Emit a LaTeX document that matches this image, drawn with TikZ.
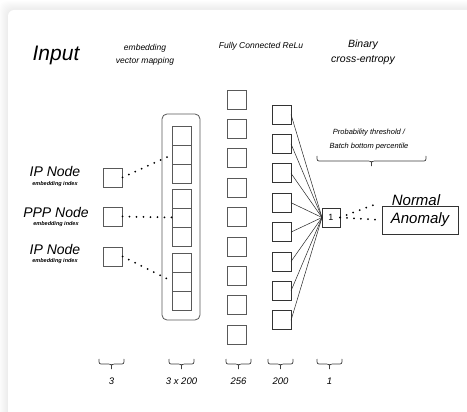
\documentclass[tikz,border=0pt]{standalone}
\usepackage{fontspec}
\setmainfont{Liberation Sans}
\newcommand{\dnbrace}[3]{%
  \draw[brc] (#1,#3) .. controls (#1,#3+5) .. (#1+4,#3+5) -- ({(#1+#2)/2-3},#3+5)
    .. controls ({(#1+#2)/2},#3+5) .. ({(#1+#2)/2},#3+10)
    .. controls ({(#1+#2)/2},#3+5) .. ({(#1+#2)/2+3},#3+5) -- (#2-4,#3+5)
    .. controls (#2,#3+5) .. (#2,#3);}
\begin{document}
\begin{tikzpicture}[x=1pt,y=-1pt,
  sq/.style={draw=black!65, line width=0.8pt, minimum width=19pt, minimum height=19pt, inner sep=0pt, outer sep=0pt},
  dotline/.style={line width=2pt, line cap=round, dash pattern=on 0pt off 7pt, black},
  conn/.style={line width=0.5pt, black!85},
  lbl/.style={font=\itshape, inner sep=0pt, align=center},
  brc/.style={line width=0.7pt, black!75}]
\useasboundingbox (0,0) rectangle (467,412);
\fill[white] (0,0) rectangle (467,412);
\foreach \i in {1,...,9} {
  \fill[black, opacity=0.008, rounded corners=8pt] (8-\i,10-\i) rectangle (490,440);
}
\fill[white, rounded corners=6pt] (8,10) rectangle (490,440);

% titles
\node[lbl, font=\itshape\fontsize{21}{23}\selectfont] (tin) at (56,55) {Input};
\node[lbl, font=\itshape\fontsize{8.5}{13.5}\selectfont] (temb) at (145,55) {embedding\\vector mapping};
\node[lbl, font=\itshape\fontsize{8.5}{10}\selectfont] (tfc) at (261,46) {Fully Connected ReLu};
\node[lbl, font=\itshape\fontsize{10.5}{15}\selectfont] (tbce) at (363,52) {Binary\\cross-entropy};

% input labels
\node[lbl, font=\itshape\fontsize{14}{14}\selectfont] (l1) at (55,172) {IP Node};
\node[lbl, font=\bfseries\itshape\fontsize{5.5}{6}\selectfont] (l1s) at (55,184) {embedding index};
\node[lbl, font=\itshape\fontsize{14}{14}\selectfont] (l2) at (56,212) {PPP Node};
\node[lbl, font=\bfseries\itshape\fontsize{5.5}{6}\selectfont] (l2s) at (56,224) {embedding index};
\node[lbl, font=\itshape\fontsize{14}{14}\selectfont] (l3) at (55,249) {IP Node};
\node[lbl, font=\bfseries\itshape\fontsize{5.5}{6}\selectfont] (l3s) at (55,261) {embedding index};

% input squares
\node[sq] (i1) at (113,177.5) {};
\node[sq] (i2) at (113,216.5) {};
\node[sq] (i3) at (113,256.5) {};

% embedding container
\draw[black!65, line width=0.8pt, rounded corners=5pt] (162,114) rectangle (200,320);
\foreach \c [count=\n] in {135.5,154.5,173.5,198.5,217.5,236.5,262.5,281.5,300.5} {
  \node[sq] (e\n) at (182,\c) {};
}

% dotted mapping
\draw[dotline] (i1.east) -- (e2.west);
\draw[dotline] (i2.east) -- (e5.west);
\draw[dotline] (i3.east) -- (e8.west);

% 256 layer
\foreach \k in {0,...,8} {
  \node[sq] (f\k) at (236.5,99.5+29.4*\k) {};
}
% 200 layer
\foreach \k in {0,...,7} {
  \node[sq, draw=black!80] (h\k) at (281.5,114.5+29.4*\k) {};
}

% output node
\node[sq, draw=black!80, minimum width=18pt, font=\fontsize{9}{9}\selectfont] (out) at (331,217.5) {1};
\foreach \k in {0,...,7} {
  \draw[conn] (h\k.east) -- (out.west);
}

% threshold label and brace
\node[lbl, font=\itshape\fontsize{7.5}{14}\selectfont] (thr) at (369,140) {Probability threshold /\\Batch bottom percentile};
\dnbrace{317}{426}{156}

% outputs
\node[lbl, font=\itshape\fontsize{15}{15}\selectfont] (normal) at (416,200) {Normal};
\node[draw=black!80, line width=0.8pt, minimum width=76pt, minimum height=28pt, inner sep=0pt, font=\itshape\fontsize{15}{15}\selectfont] (anom) at (420,220) {Anomaly};
\coordinate (nend) at (379,203);
\draw[dotline] (out.east) -- (nend);
\draw[dotline] (out.east) -- (anom.west);

% bottom braces
\foreach \a/\b/\t/\nm in {99/124/3/b1, 169/194/3 x 200/b2, 226/251/256/b3, 268/293/200/b4, 317/342/1/b5} {
  \dnbrace{\a}{\b}{359}
  \node[lbl, font=\itshape\fontsize{9.5}{10}\selectfont] (\nm t) at ({(\a+\b)/2},381) {\t};
}
\end{tikzpicture}
\end{document}
